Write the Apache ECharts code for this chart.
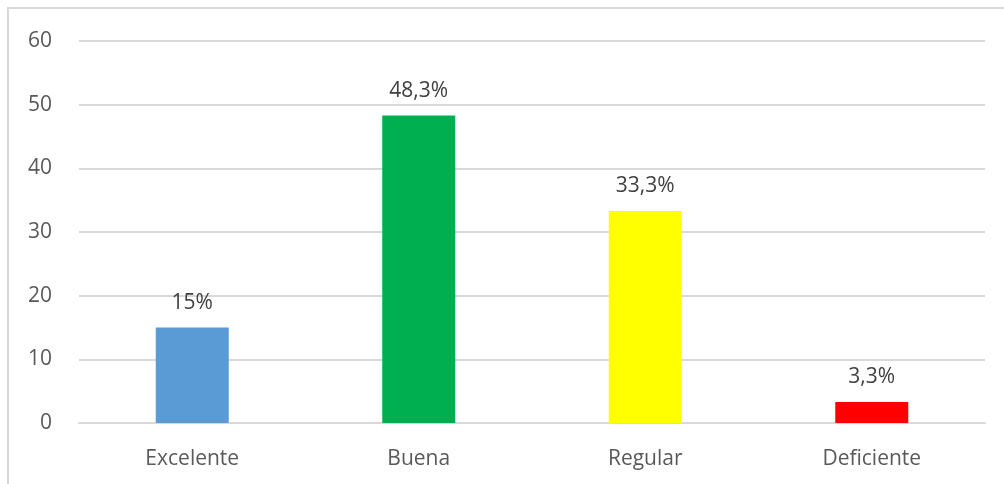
<!DOCTYPE html>
<html>
<head>
<meta charset="utf-8">
<script src="https://cdn.jsdelivr.net/npm/echarts@6/dist/echarts.min.js"></script>
<style>
  html, body { margin: 0; padding: 0; background: #fff; }
  #frame {
    position: absolute; left: 7px; top: 7px; width: 1010px; height: 490px;
    border: 2px solid #d9d9d9; box-sizing: border-box;
  }
  #chart { position: absolute; left: 0; top: 0; width: 1004px; height: 484px; }
</style>
</head>
<body>
<div id="frame"></div>
<div id="chart"></div>
<script>
const categories = ['Excelente', 'Buena', 'Regular', 'Deficiente'];
const values = [15, 48.3, 33.3, 3.3];
const valueLabels = ['15%', '48,3%', '33,3%', '3,3%'];
const barColors = ['#5b9bd5', '#00b050', '#ffff00', '#ff0000'];
const yTicks = { min: 0, max: 60, interval: 10 };

const myChart = echarts.init(document.getElementById('chart'));
const font = '"Open Sans", "Liberation Sans", sans-serif';

myChart.setOption({
  animation: false,
  grid: { left: 79, right: 19, top: 41, bottom: 61 },
  xAxis: {
    type: 'category',
    data: categories,
    axisLine: { lineStyle: { color: '#d9d9d9', width: 2 } },
    axisTick: { show: false },
    axisLabel: { color: '#595959', fontSize: 21, fontFamily: font, margin: 26 }
  },
  yAxis: {
    type: 'value',
    min: yTicks.min,
    max: yTicks.max,
    interval: yTicks.interval,
    axisLine: { show: false },
    axisTick: { show: false },
    axisLabel: { color: '#595959', fontSize: 21, fontFamily: font, margin: 27 },
    splitLine: { lineStyle: { color: '#d9d9d9', width: 2 } }
  },
  series: [{
    type: 'bar',
    barWidth: 73,
    data: values.map((v, i) => ({
      value: v,
      itemStyle: { color: barColors[i] },
      label: { formatter: valueLabels[i] }
    })),
    label: {
      show: true,
      position: 'top',
      distance: 14,
      color: '#404040',
      fontSize: 21,
      fontFamily: font
    }
  }]
});
</script>
</body>
</html>
